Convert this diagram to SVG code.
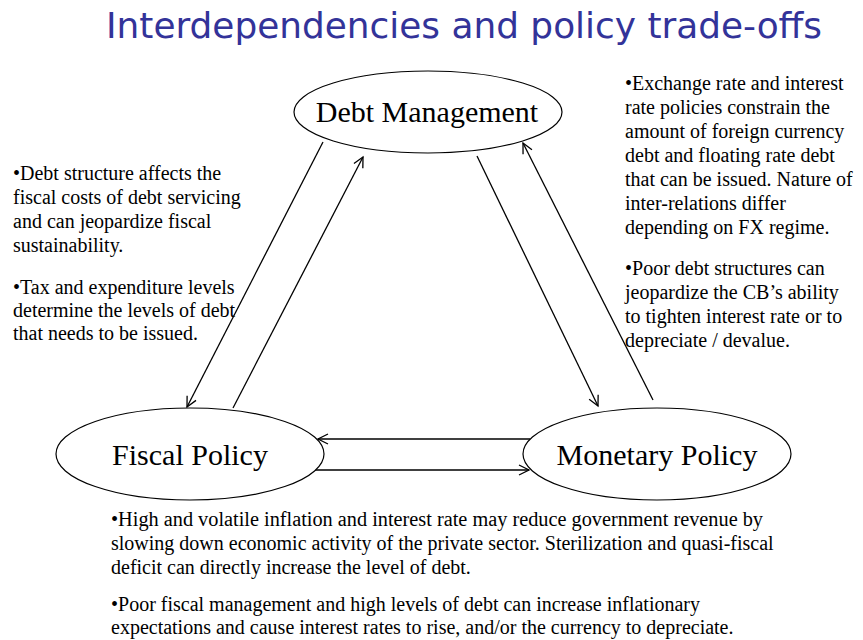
<svg xmlns="http://www.w3.org/2000/svg" width="863" height="640" viewBox="0 0 863 640">
<defs>
<style>
.title{font-family:"DejaVu Sans","Verdana",sans-serif;font-size:36px;fill:#333399}
.node ellipse{fill:#fff;stroke:#000;stroke-width:1.2}
.node text{font-family:"Liberation Serif","Times New Roman",serif;font-size:30px;fill:#000;text-anchor:middle}
.body{font-family:"Liberation Serif","Times New Roman",serif;font-size:20px;fill:#000}
.conn line{stroke:#000;stroke-width:1.3;fill:none;marker-end:url(#arr)}
</style>
<marker id="arr" markerUnits="userSpaceOnUse" markerWidth="14" markerHeight="14" refX="11" refY="6" orient="auto">
<path d="M1,1 L11,6 L1,11" fill="none" stroke="#000" stroke-width="1.3"/>
</marker>
</defs>
<rect width="863" height="640" fill="#fff"/>
<text class="title" x="106" y="38" textLength="716" lengthAdjust="spacingAndGlyphs">Interdependencies and policy trade-offs</text>

<g id="connectors" class="conn">
<line x1="323" y1="142" x2="187" y2="407"/>
<line x1="233" y1="408" x2="363" y2="157"/>
<line x1="477" y1="156" x2="598" y2="406"/>
<line x1="653" y1="400" x2="523" y2="143"/>
<line x1="530" y1="439" x2="318" y2="439"/>
<line x1="315" y1="470" x2="529" y2="470"/>
</g>

<g id="debt-management" class="node">
<ellipse cx="428" cy="112" rx="134" ry="41"/>
<text x="427" y="122">Debt Management</text>
</g>
<g id="fiscal-policy" class="node">
<ellipse cx="190" cy="454" rx="134" ry="46"/>
<text x="190" y="465">Fiscal Policy</text>
</g>
<g id="monetary-policy" class="node">
<ellipse cx="657" cy="454" rx="134" ry="46"/>
<text x="657" y="465">Monetary Policy</text>
</g>

<g id="left-text" class="body">
<text x="13" y="180">•Debt structure affects the</text>
<text x="13" y="204">fiscal costs of debt servicing</text>
<text x="13" y="228">and can jeopardize fiscal</text>
<text x="13" y="252">sustainability.</text>
<text x="13" y="294">•Tax and expenditure levels</text>
<text x="13" y="317">determine the levels of debt</text>
<text x="13" y="340">that needs to be issued.</text>
</g>

<g id="right-text" class="body">
<text x="625" y="90">•Exchange rate and interest</text>
<text x="625" y="114">rate policies constrain the</text>
<text x="625" y="138">amount of foreign currency</text>
<text x="625" y="162">debt and floating rate debt</text>
<text x="625" y="186">that can be issued. Nature of</text>
<text x="625" y="210">inter-relations differ</text>
<text x="625" y="234">depending on FX regime.</text>
<text x="625" y="275">•Poor debt structures can</text>
<text x="625" y="299">jeopardize the CB’s ability</text>
<text x="625" y="323">to tighten interest rate or to</text>
<text x="625" y="347">depreciate / devalue.</text>
</g>

<g id="bottom-text" class="body">
<text x="111" y="526" textLength="652" lengthAdjust="spacingAndGlyphs">•High and volatile inflation and interest rate may reduce government revenue by</text>
<text x="111" y="550">slowing down economic activity of the private sector. Sterilization and quasi-fiscal</text>
<text x="111" y="574">deficit can directly increase the level of debt.</text>
<text x="111" y="611">•Poor fiscal management and high levels of debt can increase inflationary</text>
<text x="111" y="634">expectations and cause interest rates to rise, and/or the currency to depreciate.</text>
</g>
</svg>
